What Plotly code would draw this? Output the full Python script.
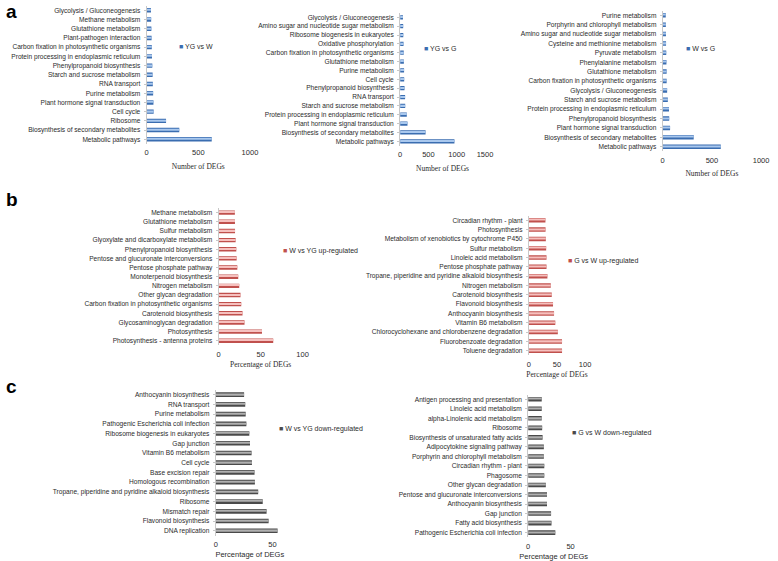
import plotly.graph_objects as go

# pathway terms listed bottom -> top, as plotted
a1_terms = ["Metabolic pathways", "Biosynthesis of secondary metabolites", "Ribosome", "Cell cycle",
            "Plant hormone signal transduction", "Purine metabolism", "RNA transport",
            "Starch and sucrose metabolism", "Phenylpropanoid biosynthesis",
            "Protein processing in endoplasmic reticulum", "Carbon fixation in photosynthetic organisms",
            "Plant-pathogen interaction", "Glutathione metabolism", "Methane metabolism",
            "Glycolysis / Gluconeogenesis"]
a1_counts = [630, 316, 188, 68, 66, 63, 60, 58, 55, 52, 50, 48, 46, 44, 42]

a2_terms = ["Metabolic pathways", "Biosynthesis of secondary metabolites", "Plant hormone signal transduction",
            "Protein processing in endoplasmic reticulum", "Starch and sucrose metabolism", "RNA transport",
            "Phenylpropanoid biosynthesis", "Cell cycle", "Purine metabolism", "Glutathione metabolism",
            "Carbon fixation in photosynthetic organisms", "Oxidative phosphorylation",
            "Ribosome biogenesis in eukaryotes", "Amino sugar and nucleotide sugar metabolism",
            "Glycolysis / Gluconeogenesis"]
a2_counts = [960, 450, 130, 118, 90, 88, 78, 72, 70, 66, 64, 60, 56, 54, 50]

a3_terms = ["Metabolic pathways", "Biosynthesis of secondary metabolites", "Plant hormone signal transduction",
            "Phenylpropanoid biosynthesis", "Protein processing in endoplasmic reticulum",
            "Starch and sucrose metabolism", "Glycolysis / Gluconeogenesis",
            "Carbon fixation in photosynthetic organisms", "Glutathione metabolism", "Phenylalanine metabolism",
            "Pyruvate metabolism", "Cysteine and methionine metabolism",
            "Amino sugar and nucleotide sugar metabolism", "Porphyrin and chlorophyll metabolism",
            "Purine metabolism"]
a3_counts = [590, 315, 75, 66, 64, 52, 45, 40, 40, 38, 36, 34, 33, 32, 31]

b1_terms = ["Photosynthesis - antenna proteins", "Photosynthesis", "Glycosaminoglycan degradation",
            "Carotenoid biosynthesis", "Carbon fixation in photosynthetic organisms", "Other glycan degradation",
            "Nitrogen metabolism", "Monoterpenoid biosynthesis", "Pentose phosphate pathway",
            "Pentose and glucuronate interconversions", "Phenylpropanoid biosynthesis",
            "Glyoxylate and dicarboxylate metabolism", "Sulfur metabolism", "Glutathione metabolism",
            "Methane metabolism"]
b1_pct = [65, 51.6, 30.8, 28.4, 26.9, 26, 24.5, 23.3, 22.2, 21.4, 21, 20.2, 19.5, 19.4, 19.3]

b2_terms = ["Toluene degradation", "Fluorobenzoate degradation", "Chlorocyclohexane and chlorobenzene degradation",
            "Vitamin B6 metabolism", "Anthocyanin biosynthesis", "Flavonoid biosynthesis",
            "Carotenoid biosynthesis", "Nitrogen metabolism",
            "Tropane, piperidine and pyridine alkaloid biosynthesis", "Pentose phosphate pathway",
            "Linoleic acid metabolism", "Sulfur metabolism", "Metabolism of xenobiotics by cytochrome P450",
            "Photosynthesis", "Circadian rhythm - plant"]
b2_pct = [59, 59, 51.5, 47, 44.8, 43, 40.7, 39, 33, 31.4, 31.4, 30.8, 30.2, 29.7, 29.5]

c1_terms = ["DNA replication", "Flavonoid biosynthesis", "Mismatch repair", "Ribosome",
            "Tropane, piperidine and pyridine alkaloid biosynthesis", "Homologous recombination",
            "Base excision repair", "Cell cycle", "Vitamin B6 metabolism", "Gap junction",
            "Ribosome biogenesis in eukaryotes", "Pathogenic Escherichia coli infection",
            "Purine metabolism", "RNA transport", "Anthocyanin biosynthesis"]
c1_pct = [54.5, 46.6, 44.8, 41.4, 37.4, 34.5, 34.2, 31.9, 31.6, 30.2, 29.6, 27, 26.4, 26, 25]

c2_terms = ["Pathogenic Escherichia coli infection", "Fatty acid biosynthesis", "Gap junction",
            "Anthocyanin biosynthesis", "Pentose and glucuronate interconversions", "Other glycan degradation",
            "Phagosome", "Circadian rhythm - plant", "Porphyrin and chlorophyll metabolism",
            "Adipocytokine signaling pathway", "Biosynthesis of unsaturated fatty acids", "Ribosome",
            "alpha-Linolenic acid metabolism", "Linoleic acid metabolism", "Antigen processing and presentation"]
c2_pct = [32, 27.5, 27, 22.2, 22.2, 20.8, 19, 19, 18.5, 18.5, 17, 16.5, 16, 16, 16]

W, H = 778, 561
SANS = "Liberation Sans Narrow, Liberation Sans, Arial"
SERIF = "Liberation Serif, Times New Roman"
TXT = "#2b2b2b"

BLUE = ("#3a6db0", "#a9c8ee")
RED = ("#c0504d", "#f6c0be")
GRAY = ("#4a4a4a", "#b0b0b0")

# terms, values, legend, colours, x0 px, x1 px, axis max, top px, bottom px,
# legend x/y px, axis title, title font, tick step, title standoff
panels = [
    (a1_terms, a1_counts, "YG vs W", BLUE, 146.5, 251.2, 1000, 5.7, 143.9, 177, 47, "Number of DEGs", SERIF, 500, 7),
    (a2_terms, a2_counts, "YG vs G", BLUE, 403.3, 489.3, 1500, 12.9, 145.7, 425, 48, "Number of DEGs", SERIF, 500, 7),
    (a3_terms, a3_counts, "W vs G", BLUE, 669.3, 769.0, 1000, 10.6, 151.4, 691, 48, "Number of DEGs", SERIF, 500, 6),
    (b1_terms, b1_pct, "W vs YG up-regulated", RED, 219.5, 304.5, 100, 208.1, 345.3, 283, 251, "Percentage of DEGs", SERIF, 50, 3),
    (b2_terms, b2_pct, "G vs W up-regulated", RED, 533.7, 590.7, 100, 215.6, 355.4, 571, 261, "Percentage of DEGs", SERIF, 50, 3),
    (c1_terms, c1_pct, "W vs YG down-regulated", GRAY, 216.5, 285.5, 60, 389.8, 535.6, 279, 429, "Percentage of DEGs", SANS, 50, 3),
    (c2_terms, c2_pct, "G vs W down-regulated", GRAY, 533.0, 584.6, 60, 394.5, 537.4, 575, 433, "Percentage of DEGs", SANS, 50, 5),
]

fig = go.Figure()
layout = dict(width=W, height=H, margin=dict(l=0, r=0, t=0, b=0), paper_bgcolor="white",
              plot_bgcolor="white", showlegend=False, barmode="overlay", annotations=[])

for i, (terms, vals, name, cols, x0, x1, xmax, top, bot, lx, ly, xtitle, tfont, dt, tso) in enumerate(panels, start=1):
    sfx = "" if i == 1 else str(i)
    fig.add_trace(go.Bar(x=vals, y=terms, orientation="h", name=name, width=0.48,
                         marker=dict(color=cols[0], line=dict(width=0)),
                         xaxis="x" + sfx, yaxis="y" + sfx))
    fig.add_trace(go.Bar(x=vals, y=terms, orientation="h", name=name, width=0.14, offset=-0.02,
                         marker=dict(color=cols[1], line=dict(width=0)), hoverinfo="skip",
                         xaxis="x" + sfx, yaxis="y" + sfx))
    layout["xaxis" + sfx] = dict(domain=[x0 / W, x1 / W], range=[0, xmax], dtick=dt, anchor="y" + sfx,
                                 showgrid=False, zeroline=False, showline=False, ticks="",
                                 ticklabelstandoff=3,
                                 tickfont=dict(family=SANS, size=7.5, color=TXT),
                                 title=dict(text=xtitle, standoff=tso,
                                            font=dict(family=tfont, size=7.5, color=TXT)))
    layout["yaxis" + sfx] = dict(domain=[1 - bot / H, 1 - top / H], anchor="x" + sfx, type="category",
                                 categoryorder="array", categoryarray=terms,
                                 showgrid=False, zeroline=False, showline=True, linecolor="#c8c8c8",
                                 linewidth=1, ticks="outside", ticklen=2, tickcolor="#c8c8c8",
                                 ticklabelstandoff=2,
                                 tickfont=dict(family=SANS, size=6.6, color=TXT))
    layout["annotations"].append(dict(
        x=lx / W, y=1 - ly / H, xref="paper", yref="paper", xanchor="left", yanchor="middle",
        showarrow=False, text="<span style='color:%s'>&#9632;</span> %s" % (cols[0], name),
        font=dict(family=SANS, size=7, color=TXT)))

for letter, py in [("a", 11), ("b", 199), ("c", 386)]:
    layout["annotations"].append(dict(x=2 / W, y=1 - py / H, xref="paper", yref="paper", xanchor="left",
                                      yanchor="middle", showarrow=False, text="<b>%s</b>" % letter,
                                      font=dict(family="Liberation Sans, Arial", size=19, color="black")))

fig.update_layout(**layout)
# drop the browser's default 8px page margin so the figure fills the window
fig.write_html("out.html", config={"displayModeBar": False},
               post_script="document.body.style.margin='0';")
